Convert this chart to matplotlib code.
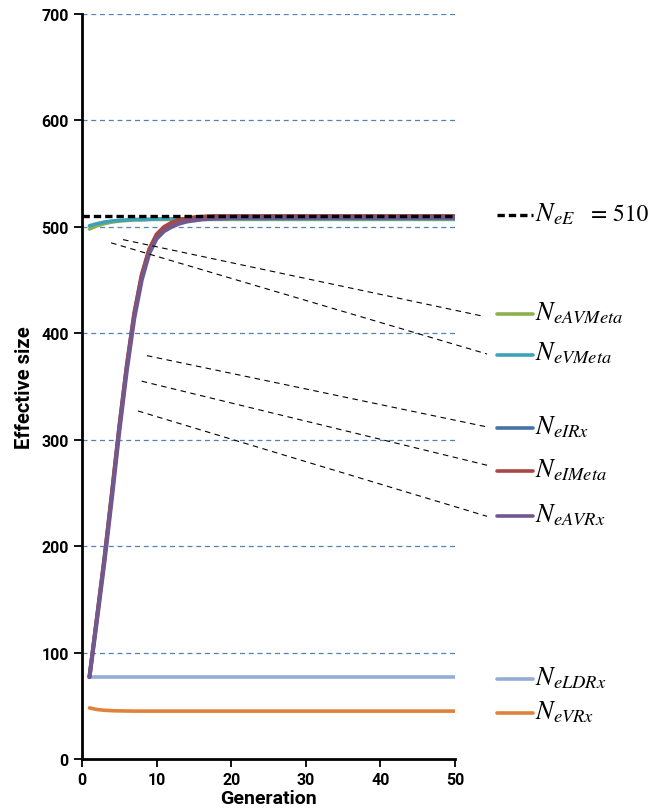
import matplotlib
matplotlib.use("Agg")
import matplotlib.pyplot as plt

# generation points
gen = [1, 2, 3, 4, 5, 6, 7, 8, 9, 10, 11, 12, 13, 14, 15, 16, 17, 18, 19, 20, 25, 30, 35, 40, 45, 50]

ne_E = 510
ne_irx = [77, 133, 188, 249, 312, 369, 418, 454, 478, 492, 499, 503, 506, 507.5, 508.5, 509, 509.5, 510, 510, 510, 510, 510, 510, 510, 510, 510]
ne_imeta = [77, 133, 189, 250, 313, 370, 419, 455, 479, 493, 500, 504, 506.5, 508, 509, 509.5, 510, 510, 510, 510, 510, 510, 510, 510, 510, 510]
ne_avrx = [77, 130, 185, 245, 308, 365, 414, 450, 475, 489, 496, 500, 503, 505, 506, 507, 507.5, 508, 508, 508.5, 508.5, 508.5, 508.5, 508.5, 508.5, 508.5]
ne_vmeta = [501, 503, 504.5, 505.5, 506, 506.5, 507, 507, 507, 507.5, 507.5, 507.5, 507.5, 507.5, 507.5, 507.5, 507.5, 507.5, 507.5, 507.5, 507.5, 507.5, 507.5, 507.5, 507.5, 507.5]
ne_avmeta = [498, 501, 503, 504.5, 505.5, 506, 506.5, 506.5, 507, 507, 507, 507, 507, 507, 507, 507, 507, 507, 507, 507, 507, 507, 507, 507, 507, 507]
ne_ldrx = [77] * len(gen)
ne_vrx = [48, 46.5, 45.8, 45.4, 45.2, 45.1, 45, 45, 45, 45, 45, 45, 45, 45, 45, 45, 45, 45, 45, 45, 45, 45, 45, 45, 45, 45]

c_green = '#8DB04F'
c_teal = '#3FA1B8'
c_blue = '#4572A7'
c_red = '#AA4643'
c_purple = '#71588F'
c_lblue = '#93AED5'
c_orange = '#E2823A'

fig = plt.figure(figsize=(6.6, 8.12), dpi=100)
ax = fig.add_axes([82/660, 1-760/812, (455-82)/660, (760-15)/812])

ax.set_xlim(0, 50)
ax.set_ylim(0, 700)

for yv in range(100, 701, 100):
    ax.axhline(yv, color='#4F81BD', lw=0.9, ls=(0, (4, 3)), zorder=1)

kw = dict(solid_joinstyle='round', solid_capstyle='round')
ax.plot(gen, ne_ldrx, color=c_lblue, lw=2.6, zorder=3, **kw)
ax.plot(gen, ne_vrx, color=c_orange, lw=2.6, zorder=3, **kw)
ax.plot(gen, ne_avmeta, color=c_green, lw=2.6, zorder=3, **kw)
ax.plot(gen, ne_vmeta, color=c_teal, lw=2.6, zorder=3, **kw)
ax.plot(gen, ne_irx, color=c_blue, lw=2.8, zorder=3, **kw)
ax.plot(gen, ne_imeta, color=c_red, lw=2.8, zorder=3, **kw)
ax.plot(gen, ne_avrx, color=c_purple, lw=3.0, zorder=4, **kw)
ax.plot([0, 50], [ne_E, ne_E], color='black', lw=2.4, ls=(0, (2.2, 1.2)), zorder=5)

for s in ['top', 'right']:
    ax.spines[s].set_visible(False)
for s in ['left', 'bottom']:
    ax.spines[s].set_linewidth(2)
ax.set_xticks(range(0, 51, 10))
ax.set_yticks(range(0, 701, 100))
ax.tick_params(direction='out', length=6, width=1.3)
for t in ax.get_xticklabels() + ax.get_yticklabels():
    t.set_fontproperties({'family': 'Roboto', 'weight': 'bold', 'size': 11.5})
ax.set_xlabel('Generation', fontsize=14, fontweight='bold', family='Roboto', labelpad=1)
ax.set_ylabel('Effective size', fontsize=14.5, fontweight='bold', family='Roboto', labelpad=5)

# hand-drawn style legend to the right
plt.rcParams['mathtext.fontset'] = 'stix'
leg = [
    (r'$N_{eAVMeta}$', c_green, 418),
    (r'$N_{eVMeta}$', c_teal, 380),
    (r'$N_{eIRx}$', c_blue, 311),
    (r'$N_{eIMeta}$', c_red, 270.5),
    (r'$N_{eAVRx}$', c_purple, 228.5),
    (r'$N_{eLDRx}$', c_lblue, 75.5),
    (r'$N_{eVRx}$', c_orange, 43.5),
]
for lab, col, yv in leg:
    ax.plot([55.6, 60.5], [yv, yv], color=col, lw=2.6, solid_capstyle='round', clip_on=False)
    ax.text(60.7, yv - 5, lab, fontsize=19, va='baseline', ha='left', family='STIXGeneral')

ax.plot([55.6, 60.5], [511.5, 511.5], color='black', lw=2.4, ls=(0, (2.2, 1.2)), clip_on=False)
ax.text(60.7, 506, r'$N_{eE}$', fontsize=19, va='baseline', ha='left')
ax.text(68.2, 506, '= 510', fontsize=17, va='baseline', ha='left', family='STIXGeneral')

# leader lines from curves to the legend entries
leaders = [
    ((5.5, 488), (53.8, 416)),
    ((3.9, 485), (54.3, 380.5)),
    ((8.7, 379), (54.3, 312)),
    ((8.0, 355), (54.3, 276)),
    ((7.5, 327), (54.3, 228)),
]
for (x0, y0), (x1, y1) in leaders:
    ax.plot([x0, x1], [y0, y1], color='black', lw=0.8, ls=(0, (5, 4)), clip_on=False, zorder=6)

fig.savefig('out.png', dpi=100)
